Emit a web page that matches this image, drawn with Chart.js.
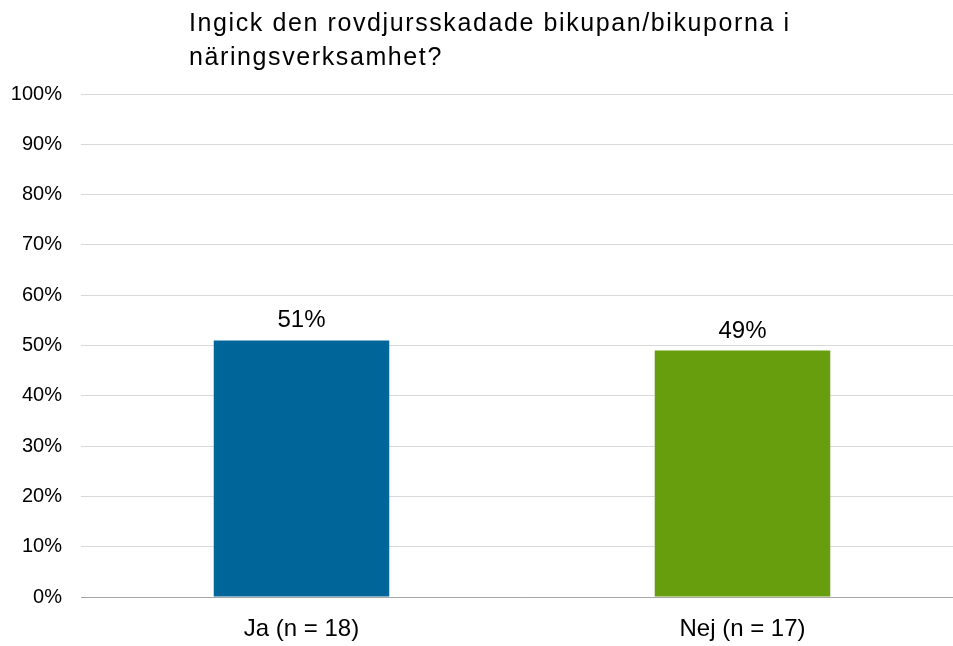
<!DOCTYPE html>
<html>
<head>
<meta charset="utf-8">
<script src="https://cdn.jsdelivr.net/npm/chart.js@4/dist/chart.umd.min.js"></script>
<style>
html,body{margin:0;padding:0;background:#fff;overflow:hidden;}
#wrap{position:relative;width:963px;height:646px;}
</style>
</head>
<body>
<div id="wrap"><canvas id="c"></canvas></div>
<script>
const titleLines = ["Ingick den rovdjursskadade bikupan/bikuporna i", "näringsverksamhet?"];
const categories = ["Ja (n = 18)", "Nej (n = 17)"];
const values = [51, 49];
const barColors = ["#006699", "#669E0E"];
const yTicks = [0, 10, 20, 30, 40, 50, 60, 70, 80, 90, 100];

const FONT = "'Liberation Sans', Arial, sans-serif";

const titlePlugin = {
  id: 'leftTitle',
  afterDraw(chart) {
    const ctx = chart.ctx;
    ctx.save();
    ctx.fillStyle = '#000';
    ctx.font = "25px " + FONT;
    ctx.letterSpacing = '1.6px';
    ctx.textAlign = 'left';
    ctx.textBaseline = 'alphabetic';
    ctx.fillText(titleLines[0], 189, 31);
    ctx.fillText(titleLines[1], 189, 65);
    ctx.restore();
  }
};

const labelPlugin = {
  id: 'barLabels',
  afterDatasetsDraw(chart) {
    const ctx = chart.ctx;
    const meta = chart.getDatasetMeta(0);
    ctx.save();
    ctx.fillStyle = '#000';
    ctx.font = "24px " + FONT;
    ctx.textAlign = 'center';
    ctx.textBaseline = 'alphabetic';
    meta.data.forEach((bar, i) => {
      ctx.fillText(values[i] + '%', bar.x, bar.y - 13);
    });
    ctx.restore();
  }
};

new Chart(document.getElementById('c'), {
  type: 'bar',
  data: {
    labels: categories,
    datasets: [{
      data: values,
      backgroundColor: barColors,
      borderWidth: 0,
      barPercentage: 0.398,
      categoryPercentage: 1.0
    }]
  },
  options: {
    responsive: true,
    maintainAspectRatio: false,
    animation: false,
    layout: { padding: { top: 94, left: 0, right: 0, bottom: 0 } },
    plugins: { legend: { display: false }, tooltip: { enabled: false }, title: { display: false } },
    scales: {
      x: {
        afterFit(scale) { scale.height = 49; },
        grid: { display: false, drawTicks: false },
        border: { display: true, color: '#a6a6a6', width: 1 },
        ticks: { color: '#000', font: { size: 24, family: FONT }, padding: 18, maxRotation: 0 }
      },
      y: {
        min: 0, max: 100,
        afterFit(scale) { scale.width = 81; },
        afterBuildTicks(scale) { scale.ticks = yTicks.map(v => ({ value: v })); },
        grid: { color: '#d9d9d9', drawTicks: false },
        border: { display: false },
        ticks: {
          color: '#000',
          font: { size: 20, family: FONT },
          padding: 19,
          callback: v => v + '%'
        }
      }
    }
  },
  plugins: [titlePlugin, labelPlugin]
});
</script>
</body>
</html>
